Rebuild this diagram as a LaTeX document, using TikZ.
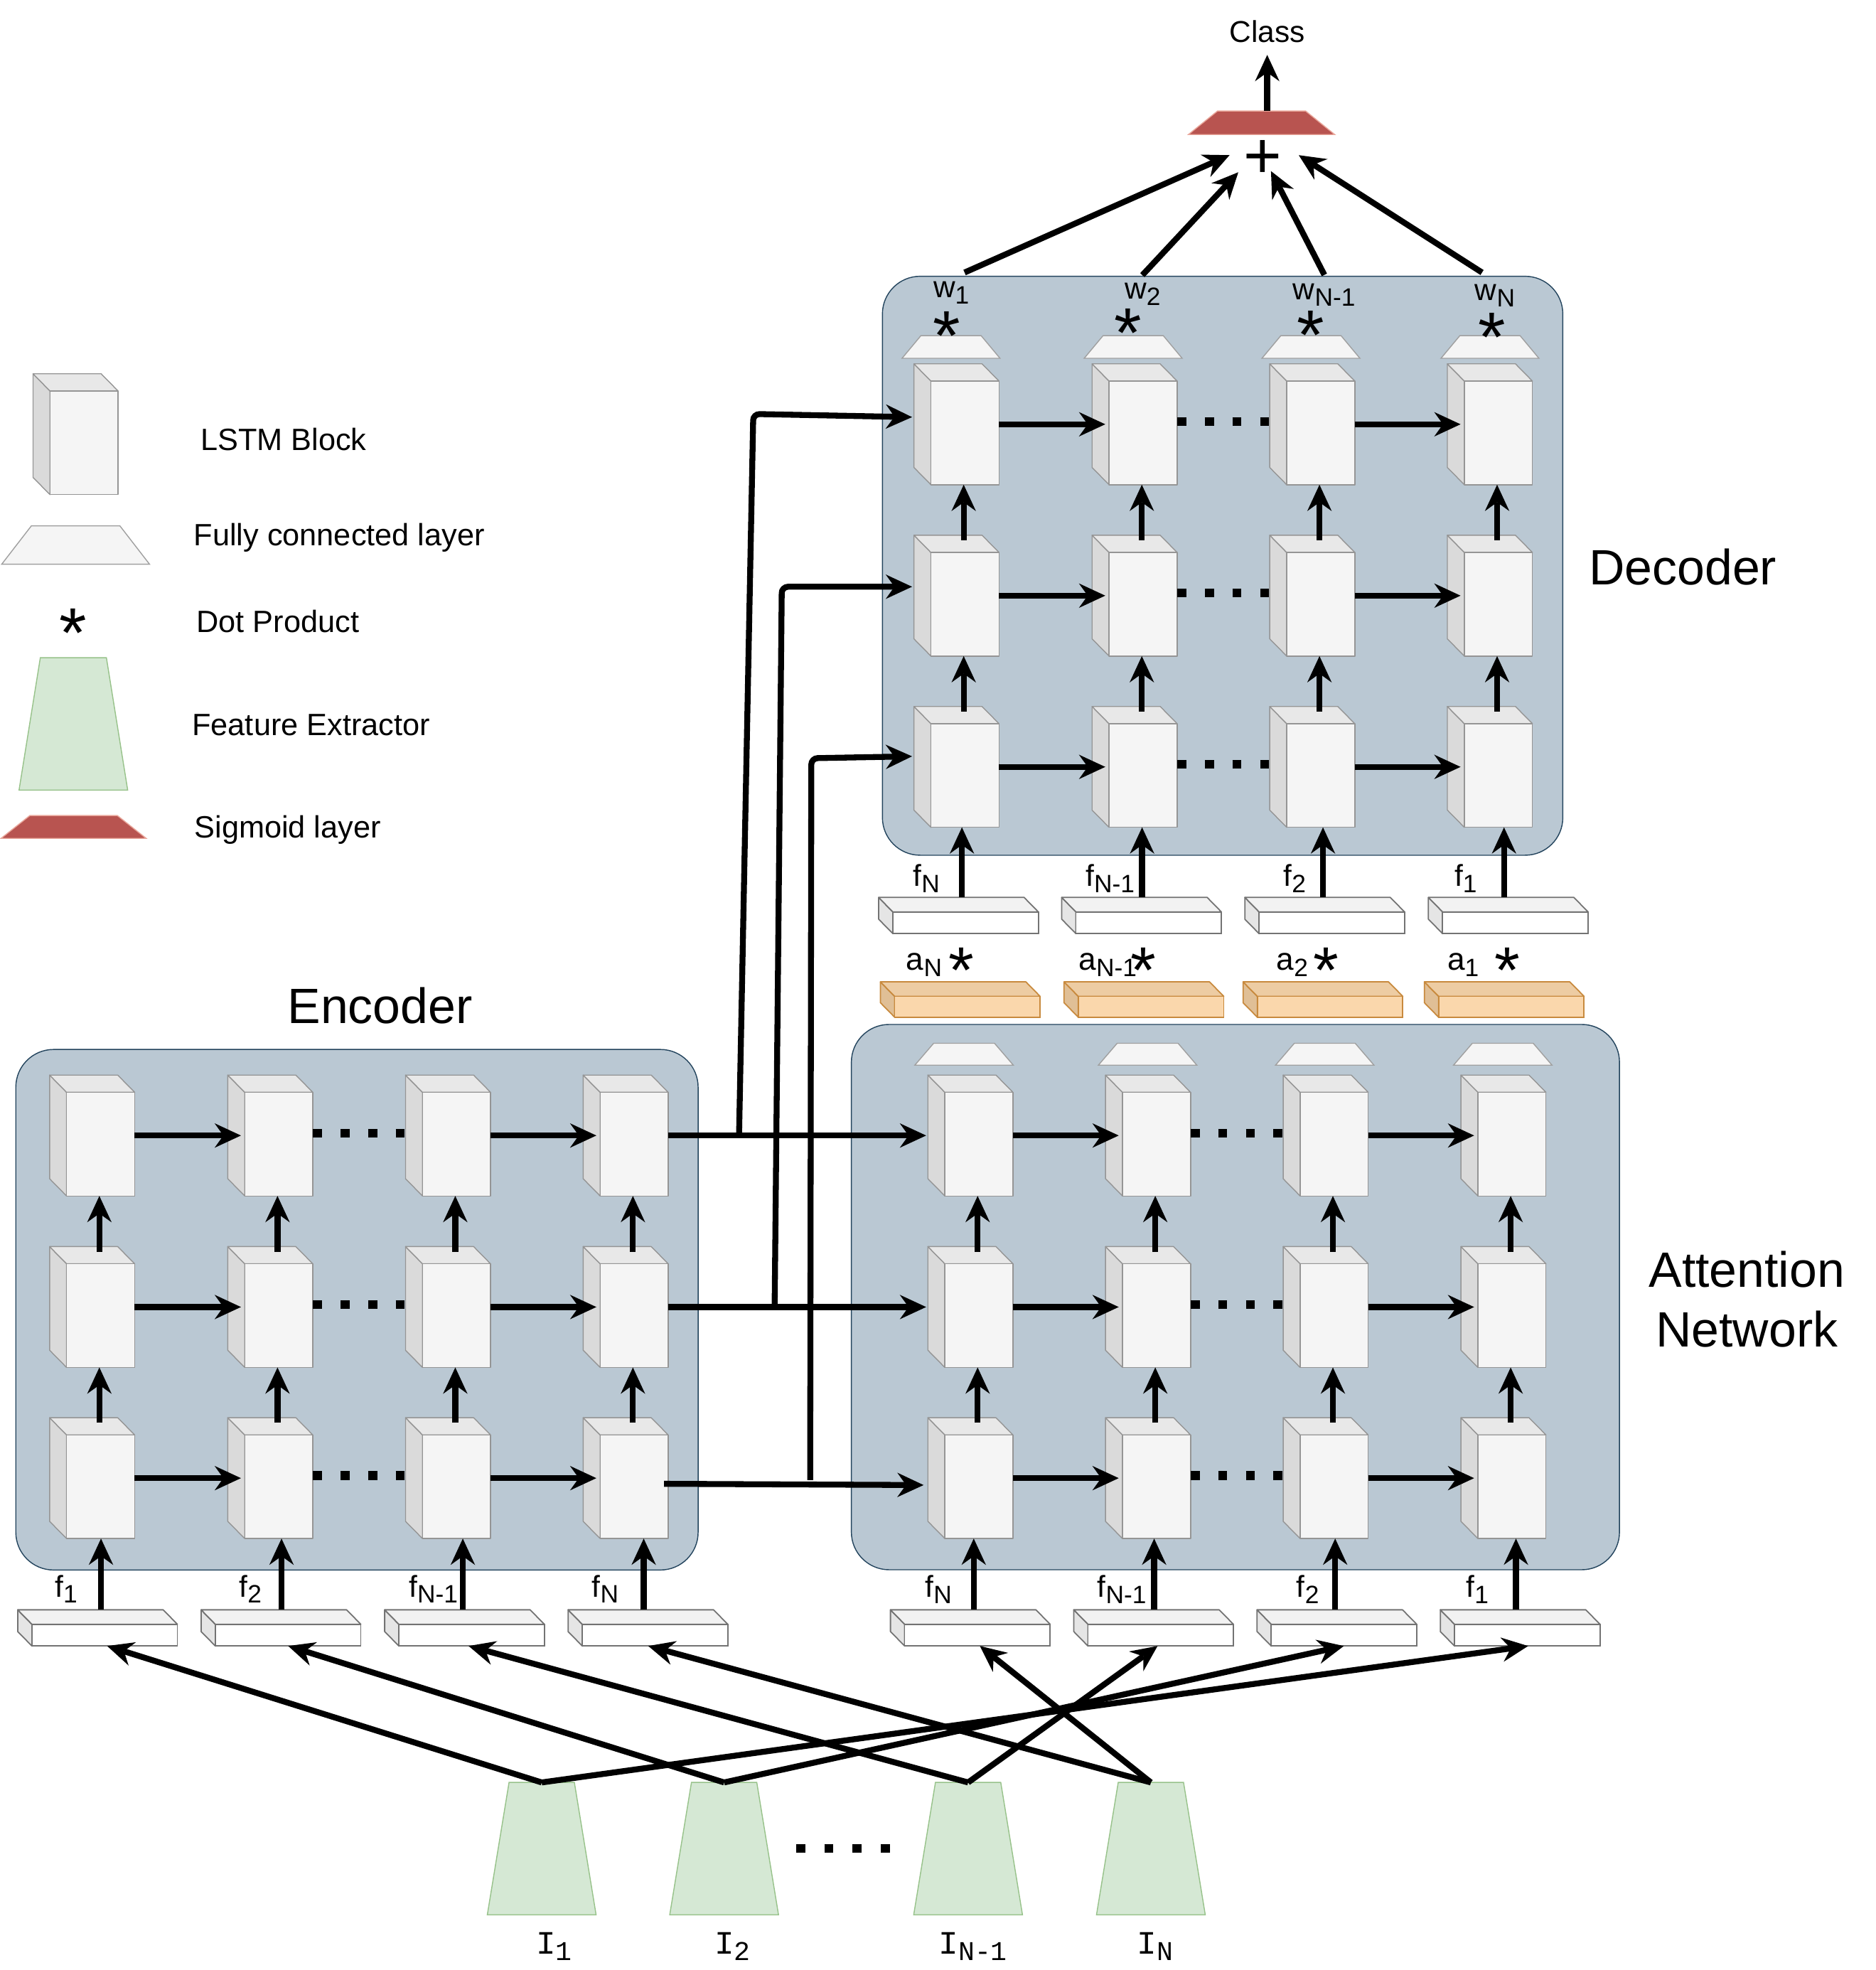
\documentclass[tikz,border=0pt]{standalone}
\usepackage{fontspec}
\setmainfont{Liberation Sans}
\setmonofont{Liberation Mono}
\usetikzlibrary{arrows.meta,calc}

\definecolor{boxfill}{HTML}{BAC8D3}
\definecolor{boxline}{HTML}{23445D}
\definecolor{cfront}{HTML}{F5F5F5}
\definecolor{ctop}{HTML}{E8E8E8}
\definecolor{cside}{HTML}{DADADA}
\definecolor{cline}{HTML}{959595}
\definecolor{ffront}{HTML}{FFFFFF}
\definecolor{ftop}{HTML}{F2F2F2}
\definecolor{fside}{HTML}{E5E5E5}
\definecolor{fline}{HTML}{737373}
\definecolor{ofront}{HTML}{FAD7AC}
\definecolor{otop}{HTML}{EDCCA3}
\definecolor{oside}{HTML}{E0BF96}
\definecolor{oline}{HTML}{C88A3E}
\definecolor{gfill}{HTML}{D5E8D4}
\definecolor{gline}{HTML}{97C28A}
\definecolor{sigfill}{HTML}{B85450}
\definecolor{sigline}{HTML}{E9A79B}
\definecolor{fcfill}{HTML}{F5F5F5}
\definecolor{fcline}{HTML}{A0A0A0}

\tikzset{
  arr/.style={line width=4.7pt,-{Stealth[length=21pt,width=19.5pt,inset=7pt,line width=0pt]}},
  ln/.style={line width=4.7pt},
  dotln/.style={line width=7pt,dash pattern=on 7.2pt off 14.8pt},
  cubeln/.style={draw=cline,line width=0.8pt,line join=round},
  lab/.style={inner sep=0pt,outer sep=0pt,font=\fontsize{24}{24}\selectfont,anchor=base},
  legtxt/.style={inner sep=0pt,outer sep=0pt,font=\fontsize{24.5}{24.5}\selectfont,anchor=base west},
  title/.style={inner sep=0pt,outer sep=0pt,font=\fontsize{39.5}{39.5}\selectfont,anchor=base},
  asterisk/.style={inner sep=0pt,outer sep=0pt,font=\fontsize{56}{56}\selectfont,anchor=base},
  fcstyle/.style={fill=fcfill,draw=fcline,line width=0.8pt},
  festyle/.style={fill=gfill,draw=gline,line width=0.8pt},
  sigstyle/.style={fill=sigfill,draw=sigline,line width=0.8pt},
  blank/.style={inner sep=0pt,outer sep=0pt}
}

\newcommand\sbs[1]{\raisebox{-5pt}{\fontsize{20}{20}\selectfont #1}}
\newcommand\msbs[1]{\raisebox{-5.6pt}{\fontsize{21.6}{21.6}\selectfont #1}}

% LSTM cube: name, front-left x, front-top y
\newcommand\lstm[3]{%
  \filldraw[cubeln,fill=cside] (#2,#3) -- ++(-13.5,-13.7) -- ++(0,82.5) -- ++(13.5,13.7) -- cycle;
  \filldraw[cubeln,fill=ctop] (#2,#3) -- ++(-13.5,-13.7) -- ++(54.2,0) -- ++(13.5,13.7) -- cycle;
  \filldraw[cubeln,fill=cfront] (#2,#3) rectangle ++(54.2,82.5);
  \node[blank,minimum width=67.7pt,minimum height=96.2pt,anchor=north west] (#1) at (#2-13.5,#3-13.7) {};
}
% flat box: name, x, y, front, top, side, line, height
\newcommand\flatbox[8]{%
  \filldraw[fill=#6,draw=#7,line width=1pt,line join=round] (#2,#3) -- ++(-11.3,-11.5) -- ++(0,#8) -- ++(11.3,11.5) -- cycle;
  \filldraw[fill=#5,draw=#7,line width=1pt,line join=round] (#2,#3) -- ++(-11.3,-11.5) -- ++(115.8,0) -- ++(11.3,11.5) -- cycle;
  \filldraw[fill=#4,draw=#7,line width=1pt] (#2,#3) rectangle ++(115.8,#8);
  \node[blank,minimum width=127.1pt,minimum height=#8pt+11.5pt,anchor=north west] (#1) at (#2-11.3,#3-11.5) {};
}
% trapezoid: cx, top y, top w, bottom w, height, style
\newcommand\trap[6]{%
  \filldraw[#6] (#1-#3/2,#2) -- (#1+#3/2,#2) -- (#1+#4/2,#2+#5) -- (#1-#4/2,#2+#5) -- cycle;
}
% grid of arrows inside a network: prefix
\newcommand\gridarrows[1]{%
  \foreach \r in {1,2,3}{
    \draw[arr] (#1\r1.east) -- ([xshift=10.5pt]#1\r2.west);
    \draw[dotln] ([yshift=2pt]#1\r2.east) -- ([yshift=2pt]#1\r3.west);
    \draw[arr] (#1\r3.east) -- ([xshift=10.5pt]#1\r4.west);
  }
  \foreach \c in {1,2,3,4}{
    \draw[arr] ([xshift=5.75pt,yshift=-4pt]#12\c.north) -- ([xshift=5.75pt]#11\c.south);
    \draw[arr] ([xshift=5.75pt,yshift=-4pt]#13\c.north) -- ([xshift=5.75pt]#12\c.south);
  }
}

\begin{document}
\begin{tikzpicture}[x=1pt,y=-1pt]
\useasboundingbox (0,0) rectangle (1493,1568);

% ---------------- legend ----------------
\lstm{lgcube}{39.8}{311.2}
\node[legtxt] (lg1) at (159.7,358.7) {LSTM Block};
\trap{60.2}{418.5}{70.4}{117.7}{30.6}{fcstyle}
\node[legtxt] (lg2) at (154.3,434.4) {Fully connected layer};
\node[asterisk] (lgstar) at (58.3,523) {*};
\node[legtxt] (lg3) at (156.5,503.2) {Dot Product};
\trap{58.4}{523.5}{52.6}{86.5}{105.4}{festyle}
\node[legtxt] (lg4) at (153,585.3) {Feature Extractor};
\trap{58.6}{649.1}{69.6}{115.6}{18.2}{sigstyle}
\node[legtxt] (lg5) at (154.8,666.8) {Sigmoid layer};

% ---------------- container boxes ----------------
\filldraw[fill=boxfill,draw=boxline,line width=0.8pt,rounded corners=30pt] (702.4,219.9) rectangle (1244,680.7);
\filldraw[fill=boxfill,draw=boxline,line width=0.8pt,rounded corners=30pt] (677.7,815.4) rectangle (1289.1,1249.4);
\filldraw[fill=boxfill,draw=boxline,line width=0.8pt,rounded corners=30pt] (12.6,835.3) rectangle (555.7,1249.6);

\node[title] (tdec) at (1339.5,465.5) {Decoder};
\node[title] (tenc) at (302.5,814.5) {Encoder};
\node[title] (tatt1) at (1390.5,1024.5) {Attention};
\node[title] (tatt2) at (1390.5,1072) {Network};

% ---------------- cubes ----------------
\foreach \c/\x in {1/741,2/882.8,3/1024.2,4/1165.6}{
  \foreach \r/\y in {1/303.3,2/439.7,3/576}{
    \lstm{d\r\c}{\x}{\y}
  }
}
\foreach \c/\x in {1/53,2/194.8,3/336.3,4/477.7}{
  \foreach \r/\y in {1/869.4,2/1005.9,3/1142.1}{
    \lstm{e\r\c}{\x}{\y}
  }
}
\foreach \c/\x in {1/752.1,2/893.5,3/1034.9,4/1176.4}{
  \foreach \r/\y in {1/869.4,2/1005.9,3/1142.1}{
    \lstm{a\r\c}{\x}{\y}
  }
}
\gridarrows{d}
\gridarrows{e}
\gridarrows{a}

% fully connected layers on top of cubes
\foreach \cx in {757,902,1043.5,1186}{\trap{\cx}{267.2}{48}{78}{18}{fcstyle}}
\foreach \cx in {767.4,913.5,1054.5,1196.2}{\trap{\cx}{830.4}{48.5}{78.4}{17.4}{fcstyle}}

% ---------------- feature boxes ----------------
\foreach \i/\x in {1/25.4,2/171.4,3/317.5,4/463.5}{\flatbox{ef\i}{\x}{1292.8}{ffront}{ftop}{fside}{fline}{17.3}}
\foreach \i/\x in {1/720.1,2/866,3/1011.9,4/1157.8}{\flatbox{af\i}{\x}{1292.8}{ffront}{ftop}{fside}{fline}{17.3}}
\foreach \i/\x in {1/710.7,2/856.4,3/1002.2,4/1148.3}{\flatbox{df\i}{\x}{725.8}{ffront}{ftop}{fside}{fline}{17.3}}
\foreach \i/\x in {1/712.1,2/858.3,3/1000.8,4/1145.1}{\flatbox{ob\i}{\x}{793}{ofront}{otop}{oside}{oline}{16.6}}

% input arrows from feature boxes
\foreach \c/\s in {1/66.3,2/64,3/62.2,4/60.2}{
  \coordinate (pe\c) at ([xshift=\s pt]ef\c.north west);
  \draw[arr] (pe\c) -- (pe\c |- e3\c.south);
  \coordinate (pa\c) at ([xshift=\s pt]af\c.north west);
  \draw[arr] (pa\c) -- (pa\c |- a3\c.south);
  \coordinate (pd\c) at ([xshift=\s pt]df\c.north west);
  \draw[arr] (pd\c) -- (pd\c |- d3\c.south);
}

% f labels
\node[lab] (lef1) at (52.6,1271) {f\sbs{1}};
\node[lab] (lef2) at (199.4,1271) {f\sbs{2}};
\node[lab] (lef3) at (345,1271) {f\sbs{N-1}};
\node[lab] (lef4) at (481.8,1271) {f\sbs{N}};
\node[lab] (laf1) at (747,1271.4) {f\sbs{N}};
\node[lab] (laf2) at (893,1271.4) {f\sbs{N-1}};
\node[lab] (laf3) at (1041,1271.4) {f\sbs{2}};
\node[lab] (laf4) at (1176,1271.4) {f\sbs{1}};
\node[lab] (ldf1) at (737.5,705.5) {f\sbs{N}};
\node[lab] (ldf2) at (883.7,705.5) {f\sbs{N-1}};
\node[lab] (ldf3) at (1030.6,705.5) {f\sbs{2}};
\node[lab] (ldf4) at (1166.7,705.5) {f\sbs{1}};

% a labels and stars
\node[lab,font=\fontsize{25}{25}\selectfont] (la1) at (735.6,772.2) {a\sbs{N}};
\node[lab,font=\fontsize{25}{25}\selectfont] (la2) at (881.8,772.2) {a\sbs{N-1}};
\node[lab,font=\fontsize{25}{25}\selectfont] (la3) at (1028.7,772.2) {a\sbs{2}};
\node[lab,font=\fontsize{25}{25}\selectfont] (la4) at (1164.6,772.2) {a\sbs{1}};
\foreach \i/\x in {1/765,2/910.2,3/1055.8,4/1199.6}{\node[asterisk,font=\fontsize{52}{52}\selectfont] (sa\i) at (\x,790) {*};}

% w labels and stars
\node[lab] (w1) at (757.2,237) {w\sbs{1}};
\node[lab] (w2) at (909.6,238) {w\sbs{2}};
\node[lab] (w3) at (1054,238.5) {w\sbs{N-1}};
\node[lab] (w4) at (1190,239) {w\sbs{N}};
\foreach \i/\x/\y in {1/753.4/254.5,2/897.8/252.5,3/1043.1/254,4/1187.6/256}{\node[asterisk] (sw\i) at (\x,\y+32) {*};}

% ---------------- encoder -> attention / decoder ----------------
\draw[arr] (e14.east) -- ([xshift=-1.4pt]a11.west);
\draw[arr] (e24.east) -- ([xshift=-1.4pt]a21.west);
\draw[arr] ([xshift=-3.3pt,yshift=-4.5pt]e34.east) -- ([xshift=-3.4pt,yshift=-5.5pt]a31.west);

\coordinate (ja) at (588.3,903);
\coordinate (jb) at (616.6,1042);
\coordinate (jc) at (644.9,1178);
\draw[arr,rounded corners=5pt] (ja) -- (599.6,329.5) -- ([xshift=-1.5pt,yshift=5.7pt]d11.west);
\draw[arr,rounded corners=5pt] (jb) -- (622.3,467) -- ([xshift=-1.5pt,yshift=7.1pt]d21.west);
\draw[arr,rounded corners=5pt] (jc) -- (645.8,603.5) -- ([xshift=-1.5pt,yshift=8.4pt]d31.west);

% ---------------- top: sum, sigmoid, class ----------------
\trap{1004.2}{88.3}{70}{116.5}{18.8}{sigstyle}
\node[blank,minimum width=116.5pt,minimum height=18.8pt] (sig) at (1004.2,97.7) {};
\node[lab] (cls) at (1008.7,33.5) {Class};
\draw[arr] ([xshift=4.5pt]sig.north) -- ([yshift=-10.2pt]cls.base);
\node[inner sep=0pt,outer sep=0pt,font=\fontsize{52}{52}\selectfont,anchor=base] (plus) at (1005,141.9) {+};
\coordinate (ws1) at (767.8,216.9);
\coordinate (ws2) at (909.3,219);
\coordinate (ws3) at (1054.2,218.8);
\coordinate (ws4) at (1179.7,216.9);
\coordinate (pt1) at (978.7,123.5);
\coordinate (pt2) at (985.7,137.1);
\coordinate (pt3) at (1011.7,136.2);
\coordinate (pt4) at (1033.8,123.5);
\foreach \i in {1,2,3,4}{\draw[arr] (ws\i) -- (pt\i);}

% ---------------- feature extractors ----------------
\foreach \i/\cx in {1/431.2,2/576.4,3/770.6,4/916.1}{
  \trap{\cx}{1418.7}{52}{86.6}{105.4}{festyle}
  \node[blank,minimum width=86.6pt,minimum height=105.4pt] (ex\i) at (\cx,1471.4) {};
}
\draw[dotln,dash pattern=on 7.2pt off 15.2pt] (633.8,1471.3) -- (708.5,1471.3);

\node[lab,font=\ttfamily\fontsize{26}{26}\selectfont] (i1) at (441,1555) {I\msbs{1}};
\node[lab,font=\ttfamily\fontsize{26}{26}\selectfont] (i2) at (583,1555) {I\msbs{2}};
\node[lab,font=\ttfamily\fontsize{26}{26}\selectfont] (i3) at (774.5,1555) {I\msbs{N-1}};
\node[lab,font=\ttfamily\fontsize{26}{26}\selectfont] (i4) at (919.6,1555) {I\msbs{N}};

% crossing arrows
\draw[arr] (ex1.north) -- ([xshift=71.2pt]ef1.south west);
\draw[arr] (ex1.north) -- ([xshift=69.9pt]af4.south west);
\draw[arr] (ex2.north) -- ([xshift=69.3pt]ef2.south west);
\draw[arr] (ex2.north) -- ([xshift=69.1pt]af3.south west);
\draw[arr] (ex3.north) -- ([xshift=66.8pt]ef3.south west);
\draw[arr] (ex3.north) -- ([xshift=66.7pt]af2.south west);
\draw[arr] (ex4.north) -- ([xshift=63.8pt]ef4.south west);
\draw[arr] (ex4.north) -- ([xshift=71.2pt]af1.south west);

\end{tikzpicture}
\end{document}
